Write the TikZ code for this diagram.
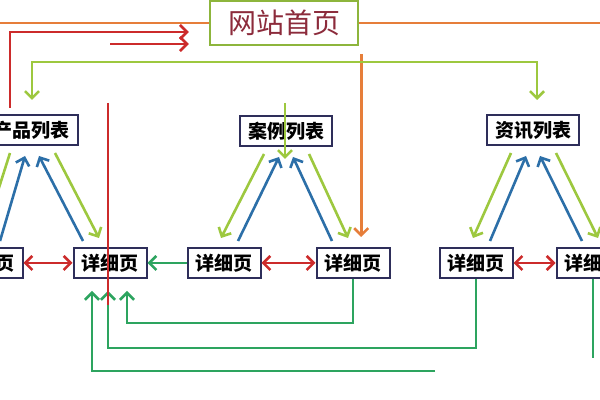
\documentclass[tikz,border=0pt]{standalone}
\usepackage{fontspec}
\setmainfont{Noto Sans CJK SC}
\usetikzlibrary{arrows.meta}
\definecolor{boxline}{HTML}{2E2E5A}
\definecolor{homeline}{HTML}{8DB53C}
\definecolor{hometext}{HTML}{8C2B3B}
\definecolor{orangeln}{HTML}{E67E3A}
\definecolor{redln}{HTML}{CC2B2B}
\definecolor{limeln}{HTML}{9DC83F}
\definecolor{blueln}{HTML}{2C6FA8}
\definecolor{greenln}{HTML}{2DA45F}
\begin{document}
\begin{tikzpicture}[x=0.5pt, y=-0.5pt, >={Straight Barb[length=3.5pt,width=7pt]}, line width=1.3pt,
  listbox/.style={draw=boxline, line width=1pt, fill=white, font=\bfseries\fontsize{9.5}{10}\selectfont, minimum width=46pt, minimum height=15pt, inner sep=1pt},
  pagebox/.style={listbox, minimum width=36.5pt},
  orangeline/.style={draw=orangeln},
  redline/.style={draw=redln},
  limeline/.style={draw=limeln},
  blueline/.style={draw=blueln},
  greenline/.style={draw=greenln}]
\useasboundingbox (0,0) rectangle (600,400);
\clip (0,0) rectangle (600,400);

% home page
\node[draw=homeline, line width=1.2pt, fill=white, minimum width=74pt, minimum height=22pt, text=hometext, font=\fontsize{14}{15}\selectfont] (home) at (284,23) {网站首页};

% list pages
\node[listbox] (list1) at (32,130) {产品列表};
\node[listbox] (list2) at (286,131) {案例列表};
\node[listbox] (list3) at (533,130) {资讯列表};

% detail pages
\node[pagebox] (d1) at (-14,263) {详细页};
\node[pagebox] (d2) at (110,263) {详细页};
\node[pagebox] (d3) at (224,263) {详细页};
\node[pagebox] (d4) at (353,263) {详细页};
\node[pagebox] (d5) at (476,263) {详细页};
\node[pagebox] (d6) at (593,263) {详细页};

% free ends
\coordinate (orL) at (0,23);
\coordinate (orR) at (600,23);
\coordinate (redA) at (10,108);
\coordinate (redS) at (110,44);
\coordinate (redT) at (108,103);
\coordinate (redB) at (108,305);
\coordinate (limeY) at (0,62);
\coordinate (gA) at (0,323);
\coordinate (gB) at (0,348);
\coordinate (gC) at (593,358);
\coordinate (gD) at (435,371);

% home page links
\draw[orangeline] (orL) -- (home.west);
\draw[orangeline] (home.east) -- (orR);
\draw[orangeline,->,shorten <=4pt,shorten >=5pt] ([xshift=1pt]home.south east) -- ([xshift=1pt]home.south east |- d4.north);
\draw[redline,->,shorten >=10pt] (redA) |- ([yshift=-4.5pt]home.west);
\draw[redline,->,shorten >=10pt] (redS) -- ([yshift=-10.5pt]home.west);
\draw[limeline,<->,shorten <=7pt,shorten >=7pt] (list1.north) |- (limeY -| list2) -| ([xshift=2pt]list3.north);

% list <-> detail
\foreach \l/\a/\b/\s in {list1/d1/d2/-13.5, list2/d3/d4/-10.5, list3/d5/d6/-5.5}{
  \draw[limeline,->] ([xshift=-11pt,yshift=-3.5pt]\l.south) -- ([xshift=-1.5pt,yshift=4.5pt]\a.north);
  \draw[blueline,->] ([xshift=7pt,yshift=3pt]\a.north) -- ([xshift=-3.5pt,yshift=-5pt]\l.south);
  \draw[blueline,->] ([xshift=\s pt,yshift=3pt]\b.north) -- ([xshift=3.5pt,yshift=-5pt]\l.south);
  \draw[limeline,->] ([xshift=11.5pt,yshift=-3.5pt]\l.south) -- ([xshift={\s pt+8pt},yshift=4.5pt]\b.north);
}

% detail <-> detail
\draw[redline,<->] (d1.east) -- (d2.west);
\draw[redline,<->] (d3.east) -- (d4.west);
\draw[redline,<->] (d5.east) -- (d6.west);
\draw[greenline,->] (d3.west) -- (d2.east);

% back to the product detail page
\draw[greenline,->,shorten >=6pt] (d4.south) -- (d4.south |- gA) -| ([xshift=8.5pt]d2.south);
\draw[greenline,->,shorten >=6pt] (d5.south) -- (d5.south |- gB) -| ([xshift=-1pt]d2.south);
\draw[greenline] (d6.south) -- (gC);
\draw[greenline,->,shorten >=6pt] (gD) -| ([xshift=-9pt]d2.south);

% lines over the boxes
\draw[limeline,->] ([xshift=-0.5pt,yshift=6pt]list2.north) -- ([xshift=-0.5pt,yshift=-6pt]list2.south);
\draw[redline] (redT) -- (redB);
\end{tikzpicture}
\end{document}
